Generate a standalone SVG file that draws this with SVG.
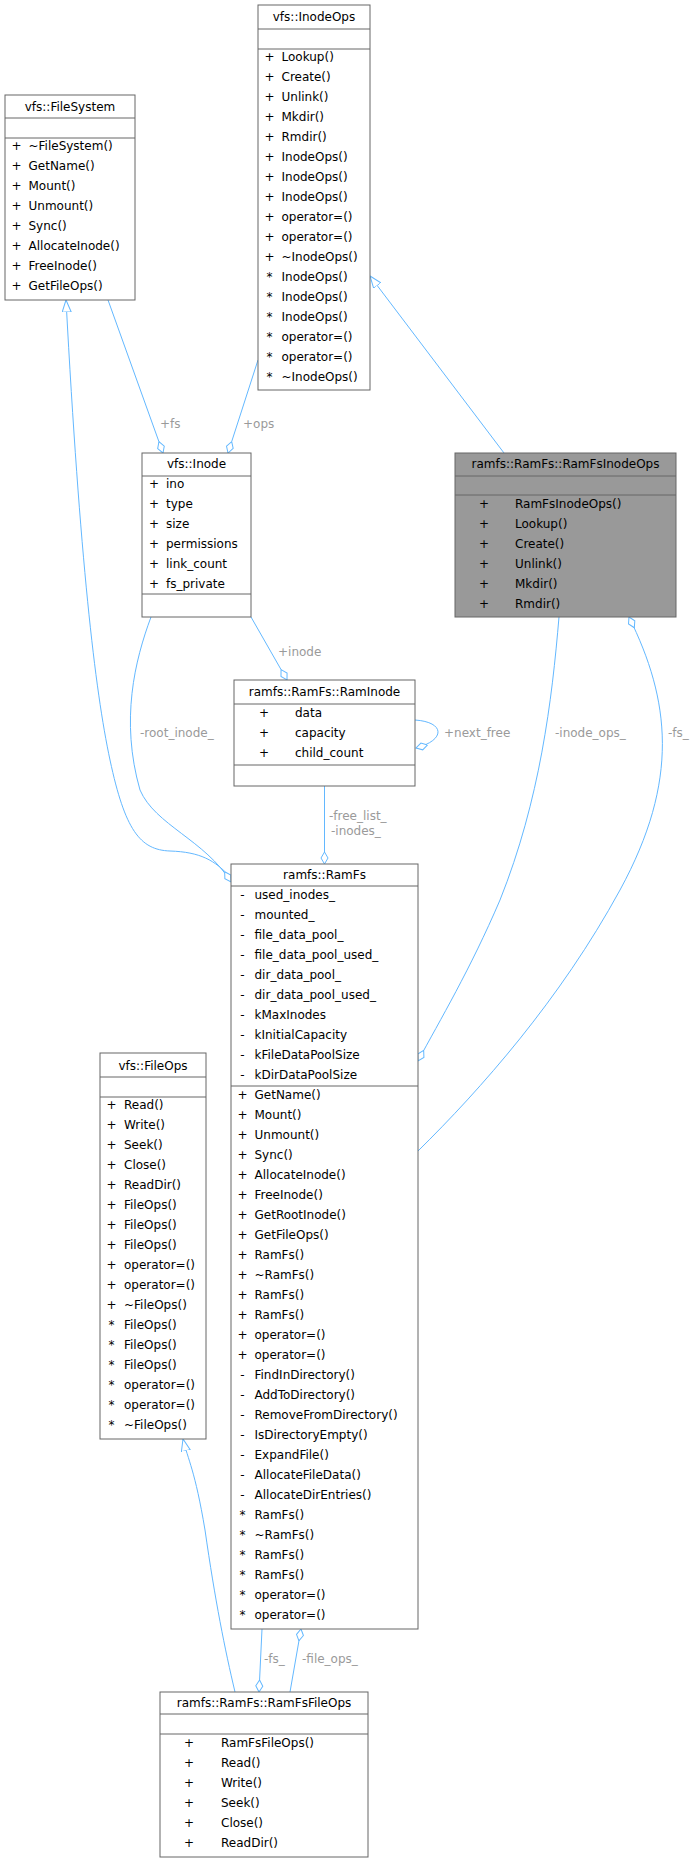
<svg xmlns="http://www.w3.org/2000/svg" width="692" height="1863" viewBox="0 0 692 1863">
<style>
text{font-family:"DejaVu Sans",sans-serif;font-size:12px;fill:#000}
.t{text-anchor:middle}
.s{text-anchor:middle}
.box{fill:#fff;stroke:#666;stroke-width:1}
.grey{fill:#999;stroke:#666;stroke-width:1}
.ln{stroke:#666;stroke-width:1}
.e{fill:none;stroke:#63b8ff;stroke-width:1}
.lb{fill:#9a9a9a;font-size:12px}
</style>
<defs>
<marker id="dia" markerWidth="14" markerHeight="10" refX="12" refY="4.5" orient="auto-start-reverse" markerUnits="userSpaceOnUse"><path d="M0,4.5 L6,1 L12,4.5 L6,8 z" fill="#fff" stroke="#63b8ff"/></marker>
<marker id="tri" markerWidth="14" markerHeight="12" refX="12" refY="5" orient="auto-start-reverse" markerUnits="userSpaceOnUse"><path d="M0,0.5 L12,5 L0,9.5 z" fill="#fff" stroke="#63b8ff"/></marker>
</defs>
<g id="edges">
<path class="e" d="M231,878 C215,860 200,852 170,851 C140,850 125,830 110,760 C95,690 80,560 66,300" marker-end="url(#tri)"/>
<path class="e" d="M151,617 C135,660 120,720 140,790 C155,825 205,840 231,882" marker-end="url(#dia)"/>
<path class="e" d="M108,300 L163,453" marker-end="url(#dia)"/>
<path class="e" d="M258,360 L228,453" marker-end="url(#dia)"/>
<path class="e" d="M504,453 L370,276" marker-end="url(#tri)"/>
<path class="e" d="M251,617 L287,680" marker-end="url(#dia)"/>
<path class="e" d="M415,720 C445,722 446,740 416,748" marker-end="url(#dia)"/>
<path class="e" d="M324.5,786 L324.5,864" marker-end="url(#dia)"/>
<path class="e" d="M559,617 C552,700 540,800 500,900 C470,970 440,1020 418,1061" marker-end="url(#dia)"/>
<path class="e" d="M418,1151 C480,1090 560,1000 620,890 C680,780 670,700 629,617" marker-end="url(#dia)"/>
<path class="e" d="M235,1692 C225,1650 215,1600 205,1530 C195,1470 188,1460 183,1439" marker-end="url(#tri)"/>
<path class="e" d="M262,1629 L259,1692" marker-end="url(#dia)"/>
<path class="e" d="M290,1692 L301,1629" marker-end="url(#dia)"/>
<text class="lb" x="160" y="428">+fs</text>
<text class="lb" x="243" y="428">+ops</text>
<text class="lb" x="278" y="656">+inode</text>
<text class="lb" x="444" y="737">+next_free</text>
<text class="lb" x="140" y="737">-root_inode_</text>
<text class="lb" x="329" y="820">-free_list_</text>
<text class="lb" x="331" y="835">-inodes_</text>
<text class="lb" x="555" y="737">-inode_ops_</text>
<text class="lb" x="668" y="737">-fs_</text>
<text class="lb" x="264" y="1663">-fs_</text>
<text class="lb" x="302" y="1663">-file_ops_</text>
</g>
<g id="InodeOps">
<rect class="box" x="258" y="5" width="112" height="385"/>
<line class="ln" x1="258" y1="29" x2="370" y2="29"/><line class="ln" x1="258" y1="49" x2="370" y2="49"/>
<text class="t" x="314" y="21">vfs::InodeOps</text>
<g><text class="s" x="269.5" y="61">+</text><text x="281.5" y="61">Lookup()</text>
<text class="s" x="269.5" y="81">+</text><text x="281.5" y="81">Create()</text>
<text class="s" x="269.5" y="101">+</text><text x="281.5" y="101">Unlink()</text>
<text class="s" x="269.5" y="121">+</text><text x="281.5" y="121">Mkdir()</text>
<text class="s" x="269.5" y="141">+</text><text x="281.5" y="141">Rmdir()</text>
<text class="s" x="269.5" y="161">+</text><text x="281.5" y="161">InodeOps()</text>
<text class="s" x="269.5" y="181">+</text><text x="281.5" y="181">InodeOps()</text>
<text class="s" x="269.5" y="201">+</text><text x="281.5" y="201">InodeOps()</text>
<text class="s" x="269.5" y="221">+</text><text x="281.5" y="221">operator=()</text>
<text class="s" x="269.5" y="241">+</text><text x="281.5" y="241">operator=()</text>
<text class="s" x="269.5" y="261">+</text><text x="281.5" y="261">~InodeOps()</text>
<text class="s" x="269.5" y="281">*</text><text x="281.5" y="281">InodeOps()</text>
<text class="s" x="269.5" y="301">*</text><text x="281.5" y="301">InodeOps()</text>
<text class="s" x="269.5" y="321">*</text><text x="281.5" y="321">InodeOps()</text>
<text class="s" x="269.5" y="341">*</text><text x="281.5" y="341">operator=()</text>
<text class="s" x="269.5" y="361">*</text><text x="281.5" y="361">operator=()</text>
<text class="s" x="269.5" y="381">*</text><text x="281.5" y="381">~InodeOps()</text></g>
</g>
<g id="FileSystem">
<rect class="box" x="5" y="95" width="130" height="205"/>
<line class="ln" x1="5" y1="118" x2="135" y2="118"/><line class="ln" x1="5" y1="138" x2="135" y2="138"/>
<text class="t" x="70" y="111">vfs::FileSystem</text>
<text class="s" x="16.5" y="150">+</text><text x="28.5" y="150">~FileSystem()</text>
<text class="s" x="16.5" y="170">+</text><text x="28.5" y="170">GetName()</text>
<text class="s" x="16.5" y="190">+</text><text x="28.5" y="190">Mount()</text>
<text class="s" x="16.5" y="210">+</text><text x="28.5" y="210">Unmount()</text>
<text class="s" x="16.5" y="230">+</text><text x="28.5" y="230">Sync()</text>
<text class="s" x="16.5" y="250">+</text><text x="28.5" y="250">AllocateInode()</text>
<text class="s" x="16.5" y="270">+</text><text x="28.5" y="270">FreeInode()</text>
<text class="s" x="16.5" y="290">+</text><text x="28.5" y="290">GetFileOps()</text>
</g>
<g id="Inode">
<rect class="box" x="142" y="453" width="109" height="164"/>
<line class="ln" x1="142" y1="476" x2="251" y2="476"/><line class="ln" x1="142" y1="594" x2="251" y2="594"/>
<text class="t" x="196.5" y="468">vfs::Inode</text>
<text class="s" x="154" y="488">+</text><text x="166" y="488">ino</text>
<text class="s" x="154" y="508">+</text><text x="166" y="508">type</text>
<text class="s" x="154" y="528">+</text><text x="166" y="528">size</text>
<text class="s" x="154" y="548">+</text><text x="166" y="548">permissions</text>
<text class="s" x="154" y="568">+</text><text x="166" y="568">link_count</text>
<text class="s" x="154" y="588">+</text><text x="166" y="588">fs_private</text>
</g>
<g id="RamFsInodeOps">
<rect class="grey" x="455" y="453" width="221" height="164"/>
<line class="ln" x1="455" y1="476" x2="676" y2="476"/><line class="ln" x1="455" y1="495" x2="676" y2="495"/>
<text class="t" x="565.5" y="468">ramfs::RamFs::RamFsInodeOps</text>
<text class="s" x="484" y="508">+</text><text x="515" y="508">RamFsInodeOps()</text>
<text class="s" x="484" y="528">+</text><text x="515" y="528">Lookup()</text>
<text class="s" x="484" y="548">+</text><text x="515" y="548">Create()</text>
<text class="s" x="484" y="568">+</text><text x="515" y="568">Unlink()</text>
<text class="s" x="484" y="588">+</text><text x="515" y="588">Mkdir()</text>
<text class="s" x="484" y="608">+</text><text x="515" y="608">Rmdir()</text>
</g>
<g id="RamInode">
<rect class="box" x="234" y="680" width="181" height="106"/>
<line class="ln" x1="234" y1="704" x2="415" y2="704"/><line class="ln" x1="234" y1="765" x2="415" y2="765"/>
<text class="t" x="324.5" y="696">ramfs::RamFs::RamInode</text>
<text class="s" x="264" y="717">+</text><text x="295" y="717">data</text>
<text class="s" x="264" y="737">+</text><text x="295" y="737">capacity</text>
<text class="s" x="264" y="757">+</text><text x="295" y="757">child_count</text>
</g>
<g id="RamFs">
<rect class="box" x="231" y="864" width="187" height="765"/>
<line class="ln" x1="231" y1="886" x2="418" y2="886"/><line class="ln" x1="231" y1="1086" x2="418" y2="1086"/>
<text class="t" x="324.5" y="879">ramfs::RamFs</text>
<text class="s" x="242.5" y="899">-</text><text x="254.5" y="899">used_inodes_</text>
<text class="s" x="242.5" y="919">-</text><text x="254.5" y="919">mounted_</text>
<text class="s" x="242.5" y="939">-</text><text x="254.5" y="939">file_data_pool_</text>
<text class="s" x="242.5" y="959">-</text><text x="254.5" y="959">file_data_pool_used_</text>
<text class="s" x="242.5" y="979">-</text><text x="254.5" y="979">dir_data_pool_</text>
<text class="s" x="242.5" y="999">-</text><text x="254.5" y="999">dir_data_pool_used_</text>
<text class="s" x="242.5" y="1019">-</text><text x="254.5" y="1019">kMaxInodes</text>
<text class="s" x="242.5" y="1039">-</text><text x="254.5" y="1039">kInitialCapacity</text>
<text class="s" x="242.5" y="1059">-</text><text x="254.5" y="1059">kFileDataPoolSize</text>
<text class="s" x="242.5" y="1079">-</text><text x="254.5" y="1079">kDirDataPoolSize</text>
<text class="s" x="242.5" y="1099">+</text><text x="254.5" y="1099">GetName()</text>
<text class="s" x="242.5" y="1119">+</text><text x="254.5" y="1119">Mount()</text>
<text class="s" x="242.5" y="1139">+</text><text x="254.5" y="1139">Unmount()</text>
<text class="s" x="242.5" y="1159">+</text><text x="254.5" y="1159">Sync()</text>
<text class="s" x="242.5" y="1179">+</text><text x="254.5" y="1179">AllocateInode()</text>
<text class="s" x="242.5" y="1199">+</text><text x="254.5" y="1199">FreeInode()</text>
<text class="s" x="242.5" y="1219">+</text><text x="254.5" y="1219">GetRootInode()</text>
<text class="s" x="242.5" y="1239">+</text><text x="254.5" y="1239">GetFileOps()</text>
<text class="s" x="242.5" y="1259">+</text><text x="254.5" y="1259">RamFs()</text>
<text class="s" x="242.5" y="1279">+</text><text x="254.5" y="1279">~RamFs()</text>
<text class="s" x="242.5" y="1299">+</text><text x="254.5" y="1299">RamFs()</text>
<text class="s" x="242.5" y="1319">+</text><text x="254.5" y="1319">RamFs()</text>
<text class="s" x="242.5" y="1339">+</text><text x="254.5" y="1339">operator=()</text>
<text class="s" x="242.5" y="1359">+</text><text x="254.5" y="1359">operator=()</text>
<text class="s" x="242.5" y="1379">-</text><text x="254.5" y="1379">FindInDirectory()</text>
<text class="s" x="242.5" y="1399">-</text><text x="254.5" y="1399">AddToDirectory()</text>
<text class="s" x="242.5" y="1419">-</text><text x="254.5" y="1419">RemoveFromDirectory()</text>
<text class="s" x="242.5" y="1439">-</text><text x="254.5" y="1439">IsDirectoryEmpty()</text>
<text class="s" x="242.5" y="1459">-</text><text x="254.5" y="1459">ExpandFile()</text>
<text class="s" x="242.5" y="1479">-</text><text x="254.5" y="1479">AllocateFileData()</text>
<text class="s" x="242.5" y="1499">-</text><text x="254.5" y="1499">AllocateDirEntries()</text>
<text class="s" x="242.5" y="1519">*</text><text x="254.5" y="1519">RamFs()</text>
<text class="s" x="242.5" y="1539">*</text><text x="254.5" y="1539">~RamFs()</text>
<text class="s" x="242.5" y="1559">*</text><text x="254.5" y="1559">RamFs()</text>
<text class="s" x="242.5" y="1579">*</text><text x="254.5" y="1579">RamFs()</text>
<text class="s" x="242.5" y="1599">*</text><text x="254.5" y="1599">operator=()</text>
<text class="s" x="242.5" y="1619">*</text><text x="254.5" y="1619">operator=()</text>
</g>
<g id="FileOps">
<rect class="box" x="100" y="1053" width="106" height="386"/>
<line class="ln" x1="100" y1="1077" x2="206" y2="1077"/><line class="ln" x1="100" y1="1097" x2="206" y2="1097"/>
<text class="t" x="153" y="1070">vfs::FileOps</text>
<text class="s" x="111.5" y="1109">+</text><text x="124" y="1109">Read()</text>
<text class="s" x="111.5" y="1129">+</text><text x="124" y="1129">Write()</text>
<text class="s" x="111.5" y="1149">+</text><text x="124" y="1149">Seek()</text>
<text class="s" x="111.5" y="1169">+</text><text x="124" y="1169">Close()</text>
<text class="s" x="111.5" y="1189">+</text><text x="124" y="1189">ReadDir()</text>
<text class="s" x="111.5" y="1209">+</text><text x="124" y="1209">FileOps()</text>
<text class="s" x="111.5" y="1229">+</text><text x="124" y="1229">FileOps()</text>
<text class="s" x="111.5" y="1249">+</text><text x="124" y="1249">FileOps()</text>
<text class="s" x="111.5" y="1269">+</text><text x="124" y="1269">operator=()</text>
<text class="s" x="111.5" y="1289">+</text><text x="124" y="1289">operator=()</text>
<text class="s" x="111.5" y="1309">+</text><text x="124" y="1309">~FileOps()</text>
<text class="s" x="111.5" y="1329">*</text><text x="124" y="1329">FileOps()</text>
<text class="s" x="111.5" y="1349">*</text><text x="124" y="1349">FileOps()</text>
<text class="s" x="111.5" y="1369">*</text><text x="124" y="1369">FileOps()</text>
<text class="s" x="111.5" y="1389">*</text><text x="124" y="1389">operator=()</text>
<text class="s" x="111.5" y="1409">*</text><text x="124" y="1409">operator=()</text>
<text class="s" x="111.5" y="1429">*</text><text x="124" y="1429">~FileOps()</text>
</g>
<g id="RamFsFileOps">
<rect class="box" x="160" y="1692" width="208" height="165"/>
<line class="ln" x1="160" y1="1714" x2="368" y2="1714"/><line class="ln" x1="160" y1="1734" x2="368" y2="1734"/>
<text class="t" x="264" y="1707">ramfs::RamFs::RamFsFileOps</text>
<text class="s" x="189" y="1747">+</text><text x="221" y="1747">RamFsFileOps()</text>
<text class="s" x="189" y="1767">+</text><text x="221" y="1767">Read()</text>
<text class="s" x="189" y="1787">+</text><text x="221" y="1787">Write()</text>
<text class="s" x="189" y="1807">+</text><text x="221" y="1807">Seek()</text>
<text class="s" x="189" y="1827">+</text><text x="221" y="1827">Close()</text>
<text class="s" x="189" y="1847">+</text><text x="221" y="1847">ReadDir()</text>
</g>
</svg>
